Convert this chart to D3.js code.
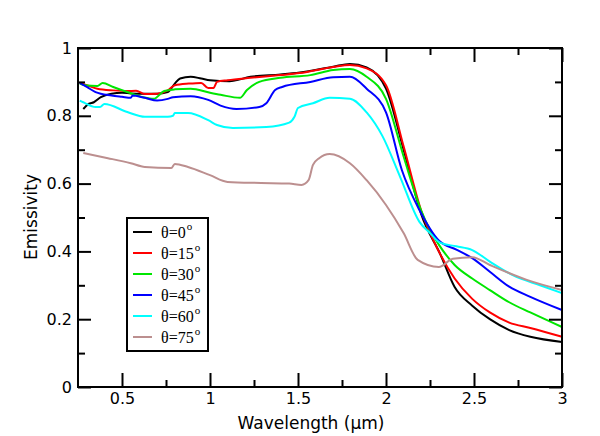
<!DOCTYPE html>
<html>
<head>
<meta charset="utf-8">
<script src="https://cdn.jsdelivr.net/npm/d3@7"></script>
<style>
  html, body { margin: 0; padding: 0; background: #fff; }
  svg { display: block; }
</style>
</head>
<body>
<svg id="chart" width="600" height="436"></svg>
<script>
// ---- data ----
const seriesNames = ["θ=0", "θ=15", "θ=30", "θ=45", "θ=60", "θ=75"];
const seriesColors = ["#000000", "#ff0000", "#00e600", "#0000ff", "#00ffff", "#bc8f8f"];

const wl0 = [0.28,0.31,0.34,0.38,0.44,0.50,0.55,0.62,0.70,0.76,0.80,0.83,0.89,0.95,1.00,1.11,1.23,1.40,1.51,1.70,1.795,1.89,2.00,2.10,2.20,2.31,2.39,2.49,2.59,2.70,2.82,3.00];
const em0 = [0.82,0.835,0.84,0.855,0.865,0.868,0.866,0.865,0.865,0.87,0.895,0.91,0.915,0.91,0.905,0.902,0.915,0.922,0.928,0.945,0.953,0.943,0.88,0.70,0.51,0.39,0.295,0.24,0.20,0.168,0.148,0.133];

const wl15 = [0.26,0.30,0.36,0.45,0.53,0.58,0.63,0.70,0.76,0.80,0.88,0.95,0.99,1.02,1.04,1.10,1.23,1.40,1.51,1.70,1.795,1.89,2.00,2.10,2.20,2.30,2.39,2.49,2.59,2.70,2.82,3.00];
const em15 = [0.897,0.89,0.88,0.875,0.873,0.874,0.864,0.865,0.875,0.89,0.895,0.897,0.882,0.882,0.9,0.905,0.912,0.92,0.926,0.944,0.95,0.94,0.89,0.71,0.52,0.40,0.32,0.26,0.22,0.19,0.174,0.148];

const wl30 = [0.26,0.29,0.36,0.39,0.45,0.53,0.62,0.68,0.74,0.80,0.89,1.00,1.06,1.17,1.21,1.28,1.40,1.57,1.70,1.795,1.89,2.00,2.10,2.20,2.25,2.30,2.39,2.49,2.59,2.70,2.82,3.00];
const em30 = [0.895,0.89,0.888,0.897,0.885,0.87,0.855,0.85,0.873,0.878,0.88,0.868,0.862,0.853,0.876,0.90,0.912,0.92,0.935,0.938,0.915,0.85,0.68,0.52,0.463,0.42,0.36,0.32,0.286,0.25,0.22,0.177];

const wl45 = [0.26,0.30,0.35,0.44,0.50,0.55,0.56,0.63,0.70,0.76,0.79,0.89,0.99,1.06,1.15,1.28,1.32,1.37,1.41,1.57,1.70,1.795,1.89,2.00,2.09,2.19,2.30,2.40,2.49,2.59,2.70,2.82,3.00];
const em45 = [0.897,0.885,0.87,0.86,0.856,0.853,0.86,0.853,0.845,0.85,0.855,0.858,0.847,0.83,0.82,0.826,0.837,0.876,0.885,0.90,0.914,0.915,0.88,0.81,0.64,0.522,0.432,0.405,0.38,0.34,0.296,0.266,0.227];

const wl60 = [0.26,0.28,0.35,0.375,0.40,0.53,0.63,0.76,0.79,0.80,0.875,0.99,1.04,1.13,1.32,1.45,1.48,1.50,1.585,1.68,1.795,1.89,1.98,2.08,2.19,2.25,2.31,2.40,2.49,2.59,2.72,2.875,3.00];
const em60 = [0.845,0.84,0.826,0.826,0.835,0.811,0.797,0.797,0.80,0.808,0.808,0.787,0.773,0.764,0.767,0.78,0.797,0.823,0.837,0.853,0.85,0.81,0.74,0.62,0.487,0.454,0.425,0.415,0.404,0.37,0.33,0.30,0.277];

const wl75 = [0.28,0.42,0.55,0.63,0.78,0.80,0.875,1.00,1.10,1.29,1.45,1.52,1.56,1.585,1.62,1.68,1.795,1.89,2.00,2.10,2.18,2.30,2.38,2.49,2.59,2.80,3.00];
const em75 = [0.69,0.675,0.66,0.649,0.646,0.658,0.649,0.625,0.605,0.602,0.60,0.596,0.61,0.655,0.675,0.687,0.66,0.61,0.537,0.454,0.375,0.354,0.378,0.383,0.36,0.316,0.286];

const wavelengths = [wl0, wl15, wl30, wl45, wl60, wl75];
const emissivities = [em0, em15, em30, em45, em60, em75];

const xMajor = [0.5, 1, 1.5, 2, 2.5, 3];
const xMajorLabels = ["0.5", "1", "1.5", "2", "2.5", "3"];
const xMinor = [0.75, 1.25, 1.75, 2.25, 2.75];
const yMajor = [0, 0.2, 0.4, 0.6, 0.8, 1];
const yMajorLabels = ["0", "0.2", "0.4", "0.6", "0.8", "1"];
const yMinor = [0.1, 0.3, 0.5, 0.7, 0.9];

// ---- layout ----
const svg = d3.select("#chart");
const L = 78, R = 562, T = 48, B = 387;
const x = d3.scaleLinear().domain([0.25, 3]).range([L, R]);
const y = d3.scaleLinear().domain([0, 1]).range([B, T]);
const tickFont = "'DejaVu Sans', sans-serif";

// lines
const line = d3.line().x(d => x(d[0])).y(d => y(d[1])).curve(d3.curveMonotoneX);
const plot = svg.append("g");
wavelengths.forEach((wl, i) => {
  const pts = wl.map((w, j) => [w, emissivities[i][j]]);
  plot.append("path")
    .attr("d", line(pts))
    .attr("fill", "none")
    .attr("stroke", seriesColors[i])
    .attr("stroke-width", 2)
    .attr("stroke-linejoin", "round");
});

// axes
function styleAxis(g) {
  g.select(".domain").remove();
  g.selectAll(".tick line").attr("stroke", "#000").attr("stroke-width", 2);
  g.selectAll(".tick text").attr("fill", "#000").style("font-family", tickFont).style("font-size", "16px");
}
const MAJ = 14, MIN = 7;
svg.append("g").attr("transform", `translate(0,${B})`)
  .call(d3.axisBottom(x).tickValues(xMajor).tickSize(-MAJ).tickPadding(6)
        .tickFormat((d, i) => xMajorLabels[i]))
  .call(styleAxis);
svg.append("g").attr("transform", `translate(0,${B})`)
  .call(d3.axisBottom(x).tickValues(xMinor).tickSize(-MIN).tickFormat(""))
  .call(styleAxis);
svg.append("g").attr("transform", `translate(0,${T})`)
  .call(d3.axisTop(x).tickValues(xMajor).tickSize(-MAJ).tickFormat(""))
  .call(styleAxis);
svg.append("g").attr("transform", `translate(0,${T})`)
  .call(d3.axisTop(x).tickValues(xMinor).tickSize(-MIN).tickFormat(""))
  .call(styleAxis);
svg.append("g").attr("transform", `translate(${L},0)`)
  .call(d3.axisLeft(y).tickValues(yMajor).tickSize(-13).tickPadding(6)
        .tickFormat((d, i) => yMajorLabels[i]))
  .call(styleAxis);
svg.append("g").attr("transform", `translate(${L},0)`)
  .call(d3.axisLeft(y).tickValues(yMinor).tickSize(-MIN).tickFormat(""))
  .call(styleAxis);
svg.append("g").attr("transform", `translate(${R},0)`)
  .call(d3.axisRight(y).tickValues(yMajor).tickSize(-13).tickFormat(""))
  .call(styleAxis);
svg.append("g").attr("transform", `translate(${R},0)`)
  .call(d3.axisRight(y).tickValues(yMinor).tickSize(-MIN).tickFormat(""))
  .call(styleAxis);

// frame
svg.append("rect").attr("x", L).attr("y", T).attr("width", R - L).attr("height", B - T)
  .attr("fill", "none").attr("stroke", "#000").attr("stroke-width", 2);

// axis titles
svg.append("text").attr("x", 311).attr("y", 429).attr("text-anchor", "middle")
  .style("font-family", tickFont).style("font-size", "17px").text("Wavelength (μm)");
svg.append("text").attr("transform", "translate(37,217) rotate(-90)").attr("text-anchor", "middle")
  .style("font-family", tickFont).style("font-size", "17px").text("Emissivity");

// legend
const lg = svg.append("g");
lg.append("rect").attr("x", 127).attr("y", 218).attr("width", 81).attr("height", 133)
  .attr("fill", "#fff").attr("stroke", "#000").attr("stroke-width", 2);
seriesNames.forEach((name, i) => {
  const yy = 232 + i * 21;
  lg.append("line").attr("x1", 133).attr("x2", 152).attr("y1", yy).attr("y2", yy)
    .attr("stroke", seriesColors[i]).attr("stroke-width", 2);
  const t = lg.append("text").attr("x", 161).attr("y", yy + 6)
    .style("font-family", "'Liberation Serif', 'Times New Roman', serif").style("font-size", "16px");
  t.append("tspan").text(name);
  t.append("tspan").attr("dy", -8).attr("dx", 1).style("font-size", "11px").text("o");
});
</script>
</body>
</html>
